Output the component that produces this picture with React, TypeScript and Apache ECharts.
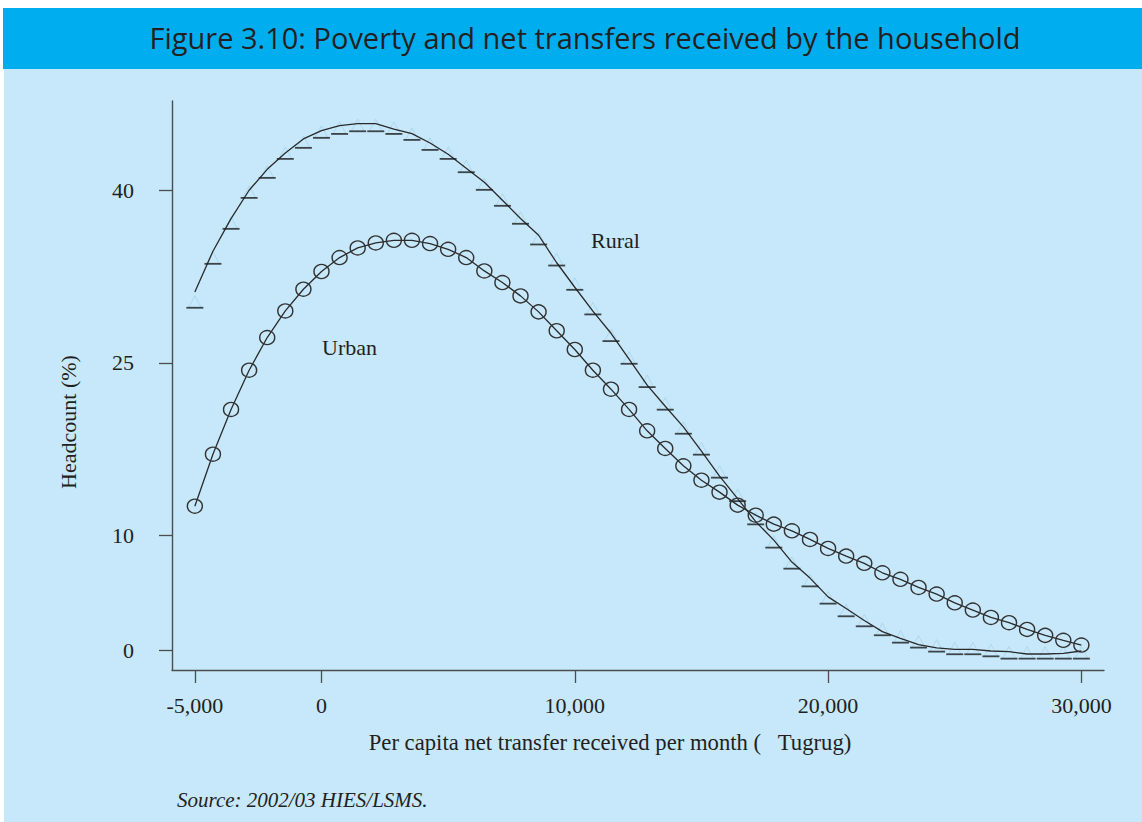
import React, { useEffect, useRef } from "react";
import * as echarts from "echarts";

// x positions (Tugrug per month)
const xValues = [-5000, -4286, -3571, -2857, -2143, -1429, -714, 0, 714, 1429, 2143, 2857, 3571, 4286, 5000, 5714, 6429, 7143, 7857, 8571, 9286, 10000, 10714, 11429, 12143, 12857, 13571, 14286, 15000, 15714, 16429, 17143, 17857, 18571, 19286, 20000, 20714, 21429, 22143, 22857, 23571, 24286, 25000, 25714, 26429, 27143, 27857, 28571, 29286, 30000];

const urban = [12.55, 17.07, 20.96, 24.37, 27.21, 29.52, 31.41, 32.95, 34.16, 35.0, 35.43, 35.66, 35.66, 35.38, 34.88, 34.16, 33.0, 31.99, 30.83, 29.44, 27.8, 26.17, 24.37, 22.72, 20.96, 19.1, 17.57, 16.06, 14.81, 13.77, 12.64, 11.77, 10.99, 10.41, 9.66, 8.88, 8.21, 7.58, 6.76, 6.19, 5.49, 4.91, 4.15, 3.52, 2.88, 2.42, 1.84, 1.32, 0.89, 0.48];

const ruralLine = [31.17, 34.71, 37.55, 40.01, 41.83, 43.25, 44.47, 45.2, 45.63, 45.8, 45.8, 45.33, 44.93, 44.12, 43.14, 41.92, 40.7, 39.14, 37.55, 36.1, 33.71, 31.58, 29.5, 27.58, 25.33, 23.07, 21.24, 19.44, 17.33, 15.16, 13.21, 11.21, 9.6, 7.69, 6.3, 4.67, 3.65, 2.61, 1.65, 1.06, 0.52, 0.24, 0.1, 0.1, -0.04, -0.1, -0.3, -0.3, -0.24, -0.04];

const ruralPoints = [30.32, 34.14, 37.18, 39.87, 41.61, 43.26, 44.22, 45.09, 45.43, 45.66, 45.66, 45.43, 44.91, 44.04, 43.26, 42.1, 40.57, 39.18, 37.62, 35.82, 33.99, 31.88, 29.74, 27.42, 25.45, 23.42, 21.46, 19.37, 17.55, 15.55, 13.51, 11.49, 9.47, 7.64, 6.1, 4.6, 3.5, 2.63, 1.85, 1.21, 0.78, 0.43, 0.2, 0.2, 0.02, -0.18, -0.18, -0.18, -0.18, -0.18];

const yTicks = [0, 10, 25, 40];
const xTicks = [-5000, 0, 10000, 20000, 30000];

const TITLE = "Figure 3.10: Poverty and net transfers received by the household";
const X_NAME = "Per capita net transfer received per month (   Tugrug)";
const Y_NAME = "Headcount (%)";
const SOURCE = "Source: 2002/03 HIES/LSMS.";

const SERIF = '"Liberation Serif", "Times New Roman", serif';
const INK = "#231F20";

export default function App() {
  const ref = useRef<HTMLDivElement>(null);
  useEffect(() => {
    if (!ref.current) return;
    const chart = echarts.init(ref.current, null, { renderer: "svg" });
    const pair = (arr: number[]) => arr.map((v, i) => [xValues[i], v]);
    chart.setOption({
      animation: false,
      backgroundColor: "#ffffff",
      grid: { left: 172, top: 101, right: 38, bottom: 152, containLabel: false },
      xAxis: {
        type: "value",
        min: -5902,
        max: 30893,
        splitLine: { show: false },
        axisLine: { onZero: false, lineStyle: { color: "#4d4d4d", width: 1.4 } },
        axisTick: { customValues: xTicks, length: 13, lineStyle: { color: "#4d4d4d", width: 1.3 } },
        axisLabel: {
          customValues: xTicks,
          margin: 24,
          color: INK,
          fontFamily: SERIF,
          fontSize: 22,
          formatter: (v: number) => v.toLocaleString("en-US"),
        },
      },
      yAxis: {
        type: "value",
        min: -1.69,
        max: 47.77,
        splitLine: { show: false },
        axisLine: { onZero: false, lineStyle: { color: "#4d4d4d", width: 1.4 } },
        axisTick: { customValues: yTicks, length: 13, lineStyle: { color: "#4d4d4d", width: 1.3 } },
        axisLabel: {
          customValues: yTicks,
          margin: 38,
          color: INK,
          fontFamily: SERIF,
          fontSize: 22,
        },
      },
      graphic: [
        { type: "rect", z: -10, silent: true, shape: { x: 3, y: 8, width: 1139, height: 61 }, style: { fill: "#00AEEF" } },
        { type: "rect", z: -10, silent: true, shape: { x: 4, y: 69, width: 1138, height: 753 }, style: { fill: "#C6E8FA" } },
        {
          type: "text", x: 585, y: 37,
          style: { text: TITLE, fill: INK, font: '29px "Open Sans", sans-serif', textAlign: "center", textVerticalAlign: "middle" },
        },
        {
          type: "text", x: 610, y: 742,
          style: { text: X_NAME, fill: INK, font: "22.7px " + SERIF, textAlign: "center", textVerticalAlign: "middle" },
        },
        {
          type: "text", x: 68, y: 422, rotation: Math.PI / 2,
          style: { text: Y_NAME, fill: INK, font: "22px " + SERIF, textAlign: "center", textVerticalAlign: "middle" },
        },
        {
          type: "text", x: 591, y: 240,
          style: { text: "Rural", fill: INK, font: "22px " + SERIF, textAlign: "left", textVerticalAlign: "middle" },
        },
        {
          type: "text", x: 322, y: 347,
          style: { text: "Urban", fill: INK, font: "22px " + SERIF, textAlign: "left", textVerticalAlign: "middle" },
        },
        {
          type: "text", x: 177, y: 800,
          style: { text: SOURCE, fill: INK, font: "italic 21px " + SERIF, textAlign: "left", textVerticalAlign: "middle" },
        },
      ],
      series: [
        {
          name: "Rural line",
          type: "line",
          data: pair(ruralLine),
          showSymbol: false,
          lineStyle: { color: "#2a2a2a", width: 1.3 },
          z: 3,
        },
        {
          name: "Rural triangles",
          type: "scatter",
          data: pair(ruralPoints),
          symbol: "triangle",
          symbolSize: [13, 12],
          itemStyle: { color: "transparent", borderColor: "rgba(140,195,220,0.7)", borderWidth: 0.8 },
          z: 2,
        },
        {
          name: "Rural",
          type: "scatter",
          data: pair(ruralPoints),
          symbol: "rect",
          symbolSize: [17, 1.8],
          symbolOffset: [0, 6],
          itemStyle: { color: "#1e1e1e" },
          z: 4,
        },
        {
          name: "Urban",
          type: "line",
          data: pair(urban),
          symbol: "circle",
          symbolSize: [15, 14],
          showAllSymbol: true,
          lineStyle: { color: "#2a2a2a", width: 1.3 },
          itemStyle: { color: "transparent", borderColor: "#333333", borderWidth: 1.4 },
          z: 5,
        },
      ],
    });
    return () => chart.dispose();
  }, []);
  return (
    <div style={{ position: "fixed", left: 0, top: 0, width: 1142, height: 822, background: "#ffffff" }}>
      <div ref={ref} style={{ width: 1142, height: 822 }} />
    </div>
  );
}
